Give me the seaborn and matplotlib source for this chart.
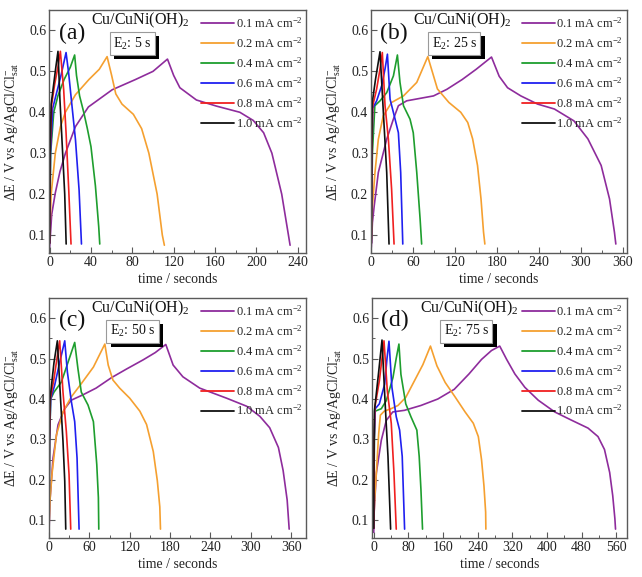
import matplotlib
matplotlib.use("Agg")
import matplotlib.pyplot as plt
import matplotlib.patheffects as pe
from matplotlib.lines import Line2D
from matplotlib.ticker import MultipleLocator
import seaborn as sns
import pandas as pd

# ---------------- data ----------------
CURRENTS = ["0.1", "0.2", "0.4", "0.6", "0.8", "1.0"]
COLORS = ["#8E2C9C", "#F5A030", "#1E9E2E", "#2020F0", "#F02020", "#101010"]
PANELS = ["(a)", "(b)", "(c)", "(d)"]
E2_LABELS = ["5 s", "25 s", "50 s", "75 s"]

# panel (a) E2 = 5 s
A_01_T = [0, 2, 5.5, 10, 15.3, 25, 37.5, 60.5, 83, 100, 114, 120, 126, 142, 161.5, 184, 197, 207, 215, 224.5, 231, 232.6]
A_01_V = [0.07, 0.15, 0.203, 0.255, 0.30, 0.365, 0.413, 0.455, 0.48, 0.50, 0.53, 0.49, 0.46, 0.43, 0.415, 0.40, 0.38, 0.35, 0.30, 0.20, 0.10, 0.075]
A_02_T = [0, 1.5, 5.5, 10.4, 15.2, 25, 38, 48, 55.6, 60, 64, 70, 81, 89, 96, 104, 109, 111]
A_02_V = [0.09, 0.2, 0.30, 0.364, 0.40, 0.443, 0.48, 0.505, 0.536, 0.49, 0.445, 0.42, 0.395, 0.36, 0.30, 0.20, 0.10, 0.075]
A_04_T = [0, 1, 4, 8, 14, 20, 24.2, 26, 29, 33, 36.5, 40, 44.3, 47.5, 48.5]
A_04_V = [0.09, 0.3, 0.40, 0.44, 0.48, 0.51, 0.54, 0.49, 0.44, 0.40, 0.36, 0.316, 0.22, 0.12, 0.078]
A_06_T = [0, 0.8, 3, 7, 11, 15.9, 18.4, 21.7, 25, 28.5, 30.8]
A_06_V = [0.08, 0.3, 0.41, 0.45, 0.49, 0.546, 0.496, 0.414, 0.333, 0.21, 0.078]
A_08_T = [0, 0.5, 2, 5, 8, 10.4, 13.6, 15.9, 18.5, 20.7]
A_08_V = [0.08, 0.3, 0.42, 0.47, 0.51, 0.549, 0.455, 0.35, 0.21, 0.078]
A_10_T = [0, 0.4, 1.5, 4, 6, 8.1, 10, 12.6, 14.6, 16]
A_10_V = [0.08, 0.3, 0.42, 0.47, 0.51, 0.549, 0.43, 0.30, 0.20, 0.078]

# panel (b) E2 = 25 s
B_01_T = [0, 1.5, 4, 10, 22, 31.5, 38.7, 50.6, 89, 108, 130, 150, 172, 183, 195, 214, 238, 262, 290, 310, 329, 341, 348, 350]
B_01_V = [0.07, 0.13, 0.17, 0.253, 0.334, 0.383, 0.416, 0.428, 0.44, 0.456, 0.48, 0.505, 0.535, 0.488, 0.46, 0.44, 0.42, 0.408, 0.379, 0.335, 0.27, 0.188, 0.107, 0.078]
B_02_T = [0, 1.5, 5.2, 10, 17, 29, 46, 65, 80.8, 94.6, 111, 128, 138, 145, 152, 157, 160.6, 162.5]
B_02_V = [0.09, 0.17, 0.253, 0.334, 0.391, 0.424, 0.44, 0.473, 0.536, 0.457, 0.424, 0.40, 0.375, 0.335, 0.27, 0.188, 0.107, 0.078]
B_04_T = [0, 1.5, 5, 12.4, 22, 31.6, 37.3, 41, 46, 55.4, 60, 65, 69.8, 72]
B_04_V = [0.09, 0.3, 0.416, 0.428, 0.448, 0.489, 0.54, 0.473, 0.416, 0.383, 0.35, 0.253, 0.139, 0.078]
B_06_T = [0, 0.8, 2, 7.6, 14.8, 19.6, 23, 26.8, 34, 38.7, 42, 45]
B_06_V = [0.08, 0.3, 0.41, 0.428, 0.465, 0.506, 0.542, 0.432, 0.383, 0.35, 0.253, 0.078]
B_08_T = [0, 0.6, 2, 7.6, 12.4, 15.7, 19.6, 24.4, 29, 32.5]
B_08_V = [0.08, 0.3, 0.416, 0.457, 0.506, 0.546, 0.416, 0.334, 0.212, 0.078]
B_10_T = [0, 0.5, 1.3, 6, 12.4, 18, 22, 25.3]
B_10_V = [0.08, 0.3, 0.424, 0.481, 0.548, 0.375, 0.253, 0.078]

# panel (c) E2 = 50 s
C_01_T = [0, 1.5, 6, 13.4, 23, 33, 50, 70, 93, 115, 140, 158, 173.6, 184.5, 199, 224, 264, 294, 313.5, 328, 341, 348, 354, 357]
C_01_V = [0.07, 0.15, 0.254, 0.336, 0.375, 0.397, 0.41, 0.427, 0.453, 0.474, 0.497, 0.515, 0.535, 0.484, 0.455, 0.427, 0.402, 0.382, 0.357, 0.329, 0.28, 0.223, 0.15, 0.078]
C_02_T = [0, 1.5, 4.5, 11, 20.8, 33, 48, 66, 83, 88, 95, 105, 120, 135, 145, 155, 161, 164.7, 165.7]
C_02_V = [0.083, 0.15, 0.215, 0.311, 0.368, 0.405, 0.438, 0.479, 0.536, 0.484, 0.447, 0.427, 0.402, 0.37, 0.337, 0.27, 0.198, 0.133, 0.078]
C_04_T = [0, 1, 2.5, 7.4, 18.4, 28.3, 38.2, 43, 48, 58, 66, 71, 73.4, 74]
C_04_V = [0.09, 0.3, 0.40, 0.417, 0.442, 0.491, 0.54, 0.475, 0.417, 0.385, 0.344, 0.238, 0.156, 0.078]
C_06_T = [0, 0.8, 2.5, 8.4, 15.9, 23.4, 27.3, 33.3, 38.2, 41.7, 44.7]
C_06_V = [0.08, 0.3, 0.40, 0.434, 0.491, 0.544, 0.467, 0.393, 0.344, 0.254, 0.078]
C_08_T = [0, 0.6, 2, 7.4, 12.4, 15.9, 20.8, 25.8, 29.8, 32.3]
C_08_V = [0.08, 0.3, 0.40, 0.45, 0.507, 0.544, 0.417, 0.319, 0.213, 0.078]
C_10_T = [0, 0.5, 1.5, 7.4, 12.4, 17.4, 20.8, 23.4, 24.9]
C_10_V = [0.08, 0.3, 0.40, 0.49, 0.544, 0.393, 0.295, 0.197, 0.078]

# panel (d) E2 = 75 s
D_01_T = [0, 1, 6, 17.5, 29, 44, 71, 109, 148, 186, 220, 249, 272, 291, 307, 326, 349, 380, 418, 456, 495, 518, 533, 545, 552, 557, 558.5]
D_01_V = [0.07, 0.12, 0.217, 0.298, 0.347, 0.368, 0.372, 0.384, 0.40, 0.424, 0.462, 0.498, 0.52, 0.531, 0.498, 0.462, 0.429, 0.397, 0.368, 0.348, 0.328, 0.307, 0.275, 0.218, 0.161, 0.104, 0.078]
D_02_T = [0, 2, 6, 11.5, 15.3, 24.4, 40, 56, 74, 94, 113.5, 131, 146, 165, 188, 211, 230, 241.6, 249, 254.6, 258.5, 259]
D_02_V = [0.095, 0.15, 0.217, 0.315, 0.36, 0.37, 0.376, 0.384, 0.404, 0.445, 0.485, 0.531, 0.482, 0.441, 0.405, 0.368, 0.34, 0.307, 0.25, 0.185, 0.12, 0.078]
D_04_T = [0, 1.5, 3.5, 17.5, 29, 44.4, 52, 58.2, 62.8, 74, 86, 99.6, 105, 109, 112.7]
D_04_V = [0.09, 0.3, 0.37, 0.376, 0.396, 0.453, 0.501, 0.536, 0.461, 0.388, 0.356, 0.323, 0.258, 0.177, 0.078]
D_06_T = [0, 1.2, 3.5, 13, 25.3, 30.7, 35.2, 42, 52, 59.8, 65.8, 71.3]
D_06_V = [0.08, 0.3, 0.376, 0.388, 0.437, 0.501, 0.543, 0.429, 0.356, 0.323, 0.258, 0.078]
D_08_T = [0, 1, 2.7, 13, 19, 23.7, 31.4, 40.5, 46.7, 52]
D_08_V = [0.08, 0.3, 0.38, 0.445, 0.50, 0.544, 0.42, 0.34, 0.217, 0.078]
D_10_T = [0, 0.7, 1.5, 10.7, 19.1, 26.8, 32.9, 39]
D_10_V = [0.08, 0.3, 0.37, 0.46, 0.546, 0.38, 0.258, 0.078]

PANEL_T = [
    [A_01_T, A_02_T, A_04_T, A_06_T, A_08_T, A_10_T],
    [B_01_T, B_02_T, B_04_T, B_06_T, B_08_T, B_10_T],
    [C_01_T, C_02_T, C_04_T, C_06_T, C_08_T, C_10_T],
    [D_01_T, D_02_T, D_04_T, D_06_T, D_08_T, D_10_T],
]
PANEL_V = [
    [A_01_V, A_02_V, A_04_V, A_06_V, A_08_V, A_10_V],
    [B_01_V, B_02_V, B_04_V, B_06_V, B_08_V, B_10_V],
    [C_01_V, C_02_V, C_04_V, C_06_V, C_08_V, C_10_V],
    [D_01_V, D_02_V, D_04_V, D_06_V, D_08_V, D_10_V],
]
XLIMS = [(-0.6, 248), (-0.5, 366), (0, 382), (-4, 585)]
XMAJOR = [40, 60, 60, 80]

# ---------------- style ----------------
sns.set_theme(style="white")
plt.rcParams["font.family"] = ["Liberation Serif", "DejaVu Serif"]
plt.rcParams["mathtext.fontset"] = "custom"
plt.rcParams["mathtext.rm"] = "Liberation Serif"
plt.rcParams["mathtext.it"] = "Liberation Serif:italic"
plt.rcParams["mathtext.bf"] = "Liberation Serif:bold"

fig = plt.figure(figsize=(6.42, 5.77), dpi=100)
W, H = 642.0, 577.0
boxes = [(49, 10, 306, 253), (371, 10, 627, 253), (49, 298, 306, 538), (372, 298, 627, 538)]
SPINE = "#5a5a5a"

for i in range(4):
    x0, y0, x1, y1 = boxes[i]
    ax = fig.add_axes([x0 / W, 1 - y1 / H, (x1 - x0) / W, (y1 - y0) / H])
    rows = []
    for c, tt, vv in zip(CURRENTS, PANEL_T[i], PANEL_V[i]):
        for t, v in zip(tt, vv):
            rows.append({"t": t, "V": v, "current": c})
    df = pd.DataFrame(rows)
    sns.lineplot(data=df, x="t", y="V", hue="current", hue_order=CURRENTS,
                 palette=COLORS, sort=False, estimator=None, legend=False,
                 linewidth=1.2, ax=ax)
    ax.set_xlim(*XLIMS[i])
    ax.set_ylim(0.056, 0.65)
    ax.xaxis.set_major_locator(MultipleLocator(XMAJOR[i]))
    ax.xaxis.set_minor_locator(MultipleLocator(XMAJOR[i] / 2))
    ax.yaxis.set_major_locator(MultipleLocator(0.1))
    ax.yaxis.set_minor_locator(MultipleLocator(0.05))
    ax.tick_params(which="both", direction="in", colors=SPINE, labelcolor="#222222",
                   bottom=True, left=True, top=False, right=False)
    ax.tick_params(which="major", length=4, width=0.8, labelsize=10, pad=2)
    ax.tick_params(which="minor", length=2.5, width=0.7)
    ax.set_yticks([0.1, 0.2, 0.3, 0.4, 0.5, 0.6])
    ax.set_yticklabels(["0.1", "0.2", "0.3", "0.4", "0.5", "0.6"])
    for s in ax.spines.values():
        s.set_color(SPINE)
        s.set_linewidth(1.0)
    ax.set_xlabel("time / seconds", fontsize=10, color="#222222", labelpad=3)
    ax.set_ylabel(r"$\Delta$E / V vs Ag/AgCl/Cl$^{-}_{\mathrm{sat}}$", fontsize=10,
                  color="#222222", labelpad=6)

    handles = [Line2D([], [], color=col, lw=1.3) for col in COLORS]
    labels = [c + r" mA cm$^{-2}$" for c in CURRENTS]
    ax.legend(handles, labels, loc="upper right", bbox_to_anchor=(1.01, 1.0),
              frameon=False, fontsize=9, handlelength=2.6, handletextpad=0.15,
              labelspacing=0.42, borderaxespad=0.2, borderpad=0.3)

    ax.text(0.09, 0.905, PANELS[i], transform=ax.transAxes, fontsize=17,
            ha="center", va="center", color="#111111")
    tx = 0.355 if i < 3 else 0.38
    ax.text(tx, 0.958, r"Cu/CuNi(OH)$_2$", transform=ax.transAxes, fontsize=11.5,
            ha="center", va="center", color="#111111")
    bx = 0.325 if i < 3 else 0.37
    lab = r"E$_2$: " + E2_LABELS[i]
    t = ax.text(bx, 0.862, lab, transform=ax.transAxes, fontsize=10, ha="center",
                va="center", color="#111111", zorder=6,
                bbox=dict(boxstyle="square,pad=0.25", fc="white", ec="#9a9a9a", lw=0.8))
    t.get_bbox_patch().set_path_effects([
        pe.SimplePatchShadow(offset=(3, -3), shadow_rgbFace="black", alpha=1.0, rho=1.0),
        pe.Normal(),
    ])

fig.savefig("out.png", dpi=100)
